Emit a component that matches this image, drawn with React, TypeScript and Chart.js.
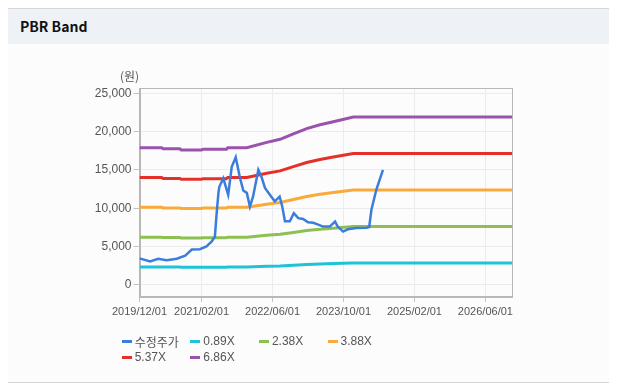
import React, { useEffect, useRef } from 'react';
import { Chart, registerables } from 'chart.js';

Chart.register(...registerables);

const titleText = 'PBR Band';
const unitLabel = '(원)';

const xTickMonths = [0, 14, 30, 46, 62, 78];
const xTickLabels = ['2019/12/01', '2021/02/01', '2022/06/01', '2023/10/01', '2025/02/01', '2026/06/01'];
const yTickValues = [0, 5000, 10000, 15000, 20000, 25000];

const seriesNames = ['수정주가', '0.89X', '2.38X', '3.88X', '5.37X', '6.86X'];
const seriesColors = ['#3b7ddd', '#1ec3d8', '#8cc152', '#f9aa3a', '#e5302a', '#9a52ad'];

// months since 2019/12/01
const priceMonths = [0, 2.4, 4.2, 6.1, 8.4, 10.3, 11.8, 13.6, 15.1, 16.3, 17.0, 17.4, 17.8, 18.0, 18.9, 20.0, 20.8, 21.7, 22.6, 23.4, 24.2, 24.9, 25.6, 26.8, 27.5, 28.3, 29.4, 30.5, 31.6, 32.2, 32.8, 33.9, 34.8, 35.8, 36.9, 38.0, 39.2, 40.3, 41.4, 42.9, 44.1, 44.7, 45.9, 47.0, 48.9, 51.2, 51.8, 52.3, 53.4, 54.9];
const priceValues = [3450, 3050, 3400, 3200, 3400, 3800, 4600, 4650, 5000, 5650, 6300, 9350, 12000, 12800, 13900, 11750, 15400, 16650, 14100, 12300, 12000, 10200, 11500, 15000, 14100, 12650, 11750, 10900, 11500, 10200, 8300, 8300, 9350, 8700, 8600, 8150, 8100, 7850, 7600, 7600, 8250, 7600, 6950, 7250, 7400, 7450, 7550, 9800, 12400, 15000];

const bandMonths = [0, 5.0, 5.3, 9.1, 9.4, 14.0, 14.3, 19.6, 19.9, 24.2, 28.7, 31.7, 34.7, 37.7, 40.7, 43.7, 48.2, 84];
const band089 = [2322, 2322, 2303, 2303, 2283, 2283, 2296, 2296, 2322, 2322, 2413, 2465, 2556, 2647, 2712, 2763, 2841, 2841];
const band238 = [6210, 6210, 6158, 6158, 6106, 6106, 6141, 6141, 6210, 6210, 6453, 6592, 6835, 7078, 7251, 7390, 7598, 7598];
const band388 = [10124, 10124, 10039, 10039, 9955, 9955, 10011, 10011, 10124, 10124, 10520, 10746, 11142, 11538, 11821, 12047, 12387, 12387];
const band537 = [14012, 14012, 13895, 13895, 13777, 13777, 13856, 13856, 14012, 14012, 14560, 14873, 15421, 15969, 16361, 16674, 17143, 17143];
const band686 = [17900, 17900, 17750, 17750, 17600, 17600, 17700, 17700, 17900, 17900, 18600, 19000, 19700, 20400, 20900, 21300, 21900, 21900];

const FONT = '"Liberation Sans", "Noto Sans CJK KR", sans-serif';

const toPts = (xs: number[], ys: number[]) => xs.map((x, i) => ({ x, y: ys[i] }));

const boxPlugin = {
  id: 'plotBox',
  beforeDatasetsDraw(chart: any) {
    const { ctx, chartArea } = chart;
    const { left, top, right, bottom } = chartArea;
    ctx.save();
    ctx.strokeStyle = '#b8b8b8';
    ctx.lineWidth = 1;
    ctx.strokeRect(Math.round(left) + 0.5, Math.round(top) + 0.5, Math.round(right - left) - 1, Math.round(bottom - top) - 1);
    ctx.restore();
  },
};

export default function App() {
  const ref = useRef<HTMLCanvasElement | null>(null);

  useEffect(() => {
    if (!ref.current) return;
    const seriesData = [
      toPts(priceMonths, priceValues),
      toPts(bandMonths, band089),
      toPts(bandMonths, band238),
      toPts(bandMonths, band388),
      toPts(bandMonths, band537),
      toPts(bandMonths, band686),
    ];
    const chart = new Chart(ref.current, {
      type: 'line',
      data: {
        datasets: seriesNames.map((name, i) => ({
          label: name,
          data: seriesData[i],
          borderColor: seriesColors[i],
          backgroundColor: seriesColors[i],
          borderWidth: i === 0 ? 2.5 : 3,
          pointRadius: 0,
          tension: 0,
          fill: false,
        })),
      },
      options: {
        responsive: false,
        animation: false,
        layout: { padding: { left: 0, top: 44, right: 105, bottom: 0 } },
        plugins: {
          legend: { display: false },
          tooltip: { enabled: false },
        },
        scales: {
          x: {
            type: 'linear',
            min: 0,
            max: 84,
            afterBuildTicks: (scale: any) => {
              scale.ticks = xTickMonths.map((v) => ({ value: v }));
            },
            afterFit: (scale: any) => {
              scale.height = 37;
            },
            ticks: {
              autoSkip: false,
              maxRotation: 0,
              padding: 3,
              color: '#555',
              font: { family: FONT, size: 11 },
              callback: (_v: any, i: number) => xTickLabels[i],
            },
            grid: { color: '#ececec', tickColor: '#c4c4c4', tickLength: 5 },
            border: { color: '#b8b8b8' },
          },
          y: {
            type: 'linear',
            min: -1600,
            max: 25700,
            afterBuildTicks: (scale: any) => {
              scale.ticks = yTickValues.map((v) => ({ value: v }));
            },
            afterFit: (scale: any) => {
              scale.width = 131.5;
            },
            ticks: {
              padding: 2,
              color: '#555',
              font: { family: FONT, size: 12 },
              callback: (v: any) => Number(v).toLocaleString('en-US'),
            },
            grid: { color: '#ececec', tickColor: '#c4c4c4', tickLength: 6 },
            border: { color: '#b8b8b8' },
          },
        },
      },
      plugins: [boxPlugin],
    } as any);
    return () => chart.destroy();
  }, []);

  const legendLeft = 113.7;
  const legendColW = 68.6;

  return (
    <div style={{ position: 'relative', width: 609, height: 375, fontFamily: FONT }}>
      <div style={{ position: 'absolute', left: 0, top: 0, width: 609, height: 1, background: '#d6d6d6' }} />
      <div
        style={{
          position: 'absolute',
          left: 0,
          top: 1,
          width: 609,
          height: 35,
          background: '#eef2f7',
        }}
      />
      <div
        style={{
          position: 'absolute',
          left: 12,
          top: 1,
          height: 35,
          lineHeight: '35px',
          fontSize: 14,
          fontWeight: 700,
          color: '#111',
          fontFamily: '"Noto Sans CJK KR", "Liberation Sans", sans-serif',
        }}
      >
        {titleText}
      </div>
      <div style={{ position: 'absolute', left: 0, top: 36, width: 609, height: 338, background: '#fcfcfd' }} />
      <div style={{ position: 'absolute', left: 0, top: 374, width: 609, height: 1, background: '#d6d6d6' }} />
      <canvas
        ref={ref}
        width={609}
        height={290}
        style={{ position: 'absolute', left: 0, top: 36, width: 609, height: 290 }}
      />
      <div
        style={{
          position: 'absolute',
          left: 112,
          top: 60,
          fontSize: 12,
          lineHeight: '15px',
          color: '#555',
          fontFamily: '"Noto Sans CJK KR", sans-serif',
        }}
      >
        {unitLabel}
      </div>
      {seriesNames.map((name, i) => {
        const col = i % 4;
        const row = Math.floor(i / 4);
        return (
          <div
            key={name}
            style={{
              position: 'absolute',
              left: legendLeft + col * legendColW,
              top: 325 + row * 16,
              height: 16,
              display: 'flex',
              alignItems: 'center',
              whiteSpace: 'nowrap',
            }}
          >
            <span style={{ display: 'inline-block', width: 10, height: 3, background: seriesColors[i], marginRight: 3 }} />
            <span style={{ fontSize: 12, color: '#555', fontFamily: '"Liberation Sans", "Noto Sans CJK KR", sans-serif' }}>{name}</span>
          </div>
        );
      })}
    </div>
  );
}
